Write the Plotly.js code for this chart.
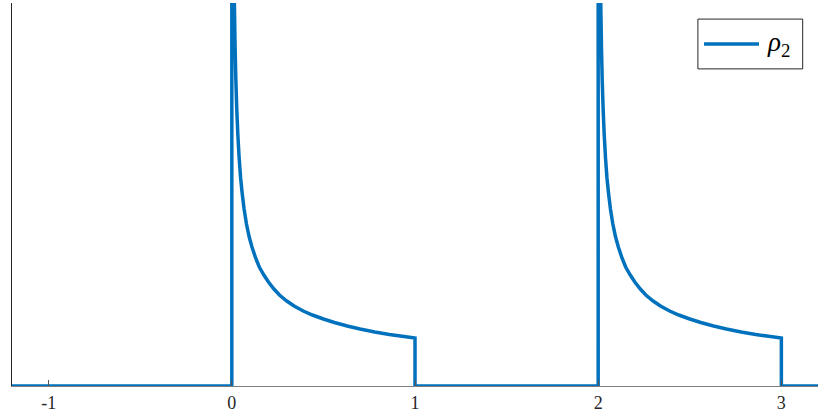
<!DOCTYPE html>
<html>
<head>
<meta charset="utf-8">
<script src="https://cdn.plot.ly/plotly-3.0.1.min.js"></script>
<style>
  html, body { margin: 0; padding: 0; background: #fff; }
  #chart { width: 830px; height: 415px; }
</style>
</head>
<body>
<div id="chart"></div>
<script>
// one period of rho_2 (starts at 0, repeats at 2)
const bumpX = [0, 0, 0.006, 0.011, 0.014, 0.018, 0.022, 0.027, 0.033, 0.04, 0.048, 0.057,
  0.067, 0.08, 0.095, 0.11, 0.13, 0.15, 0.175, 0.2, 0.23, 0.26, 0.3, 0.34, 0.39, 0.44,
  0.5, 0.56, 0.63, 0.7, 0.78, 0.86, 0.93, 1.0, 1.0];
const bumpY = [0, 10, 5.84, 4.2, 3.83, 3.38, 3.06, 2.77, 2.51, 2.28, 2.08, 1.92,
  1.77, 1.62, 1.49, 1.39, 1.28, 1.19, 1.11, 1.04, 0.97, 0.91, 0.85, 0.80, 0.75, 0.71,
  0.67, 0.635, 0.60, 0.57, 0.54, 0.515, 0.497, 0.48, 0];
const periodStarts = [0, 2];
const xRange = [-1.2, 3.2];
const yRange = [0, 3.83];
const tickVals = [-1, 0, 1, 2, 3];
const tickText = ['-1', '0', '1', '2', '3'];

const blue = '#0072BD';
const serif = 'Liberation Serif, Times New Roman, DejaVu Serif, serif';

// build the full series: flat zero, bump, flat zero, bump, flat zero
let xs = [xRange[0]];
let ys = [0];
periodStarts.forEach(s => {
  bumpX.forEach((x, i) => {
    xs.push(x + s);
    ys.push(bumpY[i]);
  });
});
xs.push(xRange[1]);
ys.push(0);

const trace = {
  x: xs,
  y: ys,
  type: 'scatter',
  mode: 'lines',
  name: 'ρ2',
  line: { color: blue, width: 3.5, simplify: false },
  showlegend: false,
  hoverinfo: 'skip'
};

// hand-made legend so the sample line is as long as in the original
const legX0 = 0.851, legX1 = 0.981, legY0 = 0.828, legY1 = 0.958;
const legMid = (legY0 + legY1) / 2;

const layout = {
  width: 830,
  height: 415,
  margin: { l: 12, r: 12, t: 3, b: 29 },
  paper_bgcolor: '#ffffff',
  plot_bgcolor: '#ffffff',
  font: { family: serif, color: '#262626' },
  xaxis: {
    range: xRange,
    tickmode: 'array',
    tickvals: tickVals,
    ticktext: tickText,
    ticks: 'inside',
    ticklen: 6,
    tickwidth: 1,
    tickcolor: '#555555',
    showline: true,
    linecolor: '#808080',
    linewidth: 1,
    showgrid: false,
    zeroline: false,
    tickfont: { family: serif, size: 18, color: '#262626' }
  },
  yaxis: {
    range: yRange,
    showline: true,
    linecolor: '#262626',
    linewidth: 1,
    showticklabels: false,
    ticks: '',
    showgrid: false,
    zeroline: false
  },
  shapes: [
    {
      type: 'rect', xref: 'paper', yref: 'paper',
      x0: legX0, x1: legX1, y0: legY0, y1: legY1,
      line: { color: '#262626', width: 1 },
      fillcolor: '#ffffff',
      layer: 'above'
    },
    {
      type: 'line', xref: 'paper', yref: 'paper',
      x0: 0.8586, x1: 0.9268, y0: legMid, y1: legMid,
      line: { color: blue, width: 3.5 },
      layer: 'above'
    }
  ],
  annotations: [
    {
      xref: 'paper', yref: 'paper',
      x: 0.9516, y: legMid,
      xanchor: 'center', yanchor: 'middle',
      text: '<i>ρ</i><sub>2</sub>',
      showarrow: false,
      font: { family: serif, size: 27, color: '#000000' }
    }
  ]
};

Plotly.newPlot('chart', [trace], layout, { displayModeBar: false, staticPlot: true });
</script>
</body>
</html>
